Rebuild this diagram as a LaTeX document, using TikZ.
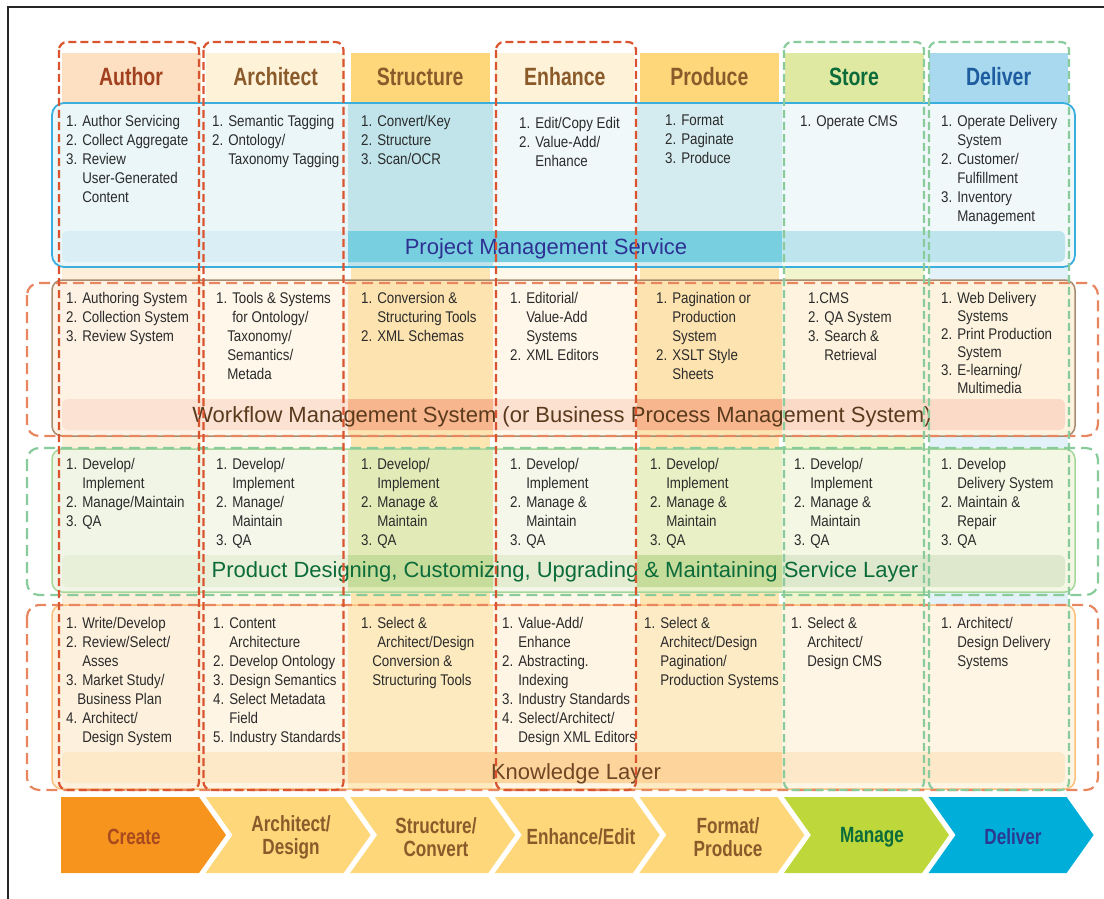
\documentclass[tikz,border=0pt]{standalone}
\usepackage{fontspec}
\setmainfont{Liberation Sans}[FakeStretch=0.86]
\newfontfamily\hdfont{Liberation Sans}[FakeStretch=0.78]
\newfontfamily\ttlfont{Liberation Sans}
\newcommand\ind{\hphantom{1. }}

% column heads and stripes
\definecolor{hdAuthor}{HTML}{FDDFC2}
\definecolor{hdCream}{HTML}{FEF2D8}
\definecolor{hdGold}{HTML}{FDD77A}
\definecolor{hdStore}{HTML}{E0E9A2}
\definecolor{hdDeliver}{HTML}{A8D9EE}
\definecolor{stAuthor}{HTML}{FDEFD9}
\definecolor{stCream}{HTML}{FEF8EA}
\definecolor{stGold}{HTML}{FDE6B2}
\definecolor{stStore}{HTML}{F0F5CE}
\definecolor{stDeliver}{HTML}{E2F2F8}
\definecolor{txAuthor}{HTML}{A0401E}
\definecolor{txBrown}{HTML}{8B5A2B}
\definecolor{txGreen}{HTML}{0B6B3A}
\definecolor{txBlue}{HTML}{1D5C9E}
\definecolor{txGray}{HTML}{2B2B2B}
% layers
\definecolor{pmA}{HTML}{EAF6F8}
\definecolor{pmS}{HTML}{C0E4EA}
\definecolor{pmE}{HTML}{F0F8FA}
\definecolor{pmP}{HTML}{D4ECF0}
\definecolor{pbA}{HTML}{D9EFF5}
\definecolor{pbS}{HTML}{78CFE0}
\definecolor{pbD}{HTML}{BEE5EE}
\definecolor{wfA}{HTML}{FDF2E4}
\definecolor{wfC}{HTML}{FEF7EA}
\definecolor{wfS}{HTML}{FDE3B0}
\definecolor{wfD}{HTML}{FDF3DE}
\definecolor{wbA}{HTML}{FBE2D3}
\definecolor{wbS}{HTML}{F7B68E}
\definecolor{wbE}{HTML}{FCE0D0}
\definecolor{wbD}{HTML}{FCDAC8}
\definecolor{pdA}{HTML}{F0F5E6}
\definecolor{pdC}{HTML}{F4F7EA}
\definecolor{pdS}{HTML}{E2EBB8}
\definecolor{pdP}{HTML}{E9F0C6}
\definecolor{pdD}{HTML}{F4F7E4}
\definecolor{qbA}{HTML}{E8F0DA}
\definecolor{qbS}{HTML}{C6DC9A}
\definecolor{qbE}{HTML}{E4EDD2}
\definecolor{qbD}{HTML}{DEE8CC}
\definecolor{klA}{HTML}{FDF0DC}
\definecolor{klC}{HTML}{FEF5E4}
\definecolor{klS}{HTML}{FDEABF}
\definecolor{klP}{HTML}{FDEBC6}
\definecolor{kbA}{HTML}{FDE8C8}
\definecolor{kbS}{HTML}{FCD49C}
\definecolor{kbD}{HTML}{FDE8CA}
\definecolor{pmsLine}{HTML}{3AAEDD}
\definecolor{wfLine}{HTML}{A88C70}
\definecolor{pdLine}{HTML}{A6D79A}
\definecolor{klLine}{HTML}{FAC07C}
\definecolor{pmsTx}{HTML}{2E3192}
\definecolor{wfTx}{HTML}{5A3A1C}
\definecolor{pdTx}{HTML}{0B6B3A}
\definecolor{klTx}{HTML}{6E4624}
\definecolor{dRed}{HTML}{D9542F}
\definecolor{dSalmon}{HTML}{E88660}
\definecolor{dGreen}{HTML}{8ACB9C}
% chevrons
\definecolor{chOrange}{HTML}{F7941D}
\definecolor{chGold}{HTML}{FDD77A}
\definecolor{chGreen}{HTML}{BED73B}
\definecolor{chBlue}{HTML}{00AEDA}
\definecolor{chTxCreate}{HTML}{A84A1E}
\definecolor{chTxBlue}{HTML}{2B3990}

\begin{document}
\begin{tikzpicture}[x=1pt,y=-1pt,
	cell/.style={anchor=north west,align=left,inner sep=0pt,text=txGray,font=\fontsize{15.5}{19}\selectfont},
	head/.style={anchor=base,inner sep=0pt,font=\hdfont\bfseries\fontsize{25}{25}\selectfont},
	ttl/.style={anchor=base,inner sep=0pt,font=\ttlfont\fontsize{22}{22}\selectfont},
	chev/.style={align=center,inner sep=0pt,font=\hdfont\bfseries\fontsize{22}{23}\selectfont},
	colbox/.style={dash pattern=on 8pt off 4pt,line width=2.2pt,rounded corners=8pt},
	laybox/.style={dash pattern=on 11pt off 6pt,line width=2.2pt,rounded corners=12pt}]
				\useasboundingbox (0,0) rectangle (1104,899);
				\draw[line width=2.5pt,black!85] (8,899) -- (8,7) -- (1104,7);
				
				%stripes and heads
				\foreach \sc [count=\i from 0] in {stAuthor,stCream,stGold,stCream,stGold,stStore,stDeliver}
					\fill[\sc] ({61.6+144.6*\i},103) rectangle ++(139,687);
				\foreach \name/\fc/\tc [count=\i from 0] in {Author/hdAuthor/txAuthor,Architect/hdCream/txBrown,Structure/hdGold/txBrown,Enhance/hdCream/txBrown,Produce/hdGold/txBrown,Store/hdStore/txGreen,Deliver/hdDeliver/txBlue}{
					\fill[\fc] ({61.6+144.6*\i},53) rectangle ++(139,50);
					\node[head,text=\tc] (h\name) at ({131+144.6*\i},85) {\name};
				}
				
				%project management
				\begin{scope}
					\clip[rounded corners=12pt] (52,103) rectangle (1075,267);
					\foreach \cc [count=\i from 0] in {pmA,pmA,pmS,pmE,pmP,pmE,pmE}
						\fill[\cc] ({ifthenelse(\i==0,40,58.7+144.6*\i)},100) rectangle ({ifthenelse(\i==6,1090,58.7+144.6*(\i+1))},270);
					\clip[rounded corners=6pt] (62,231) rectangle (1065,262);
					\foreach \cc [count=\i from 0] in {pbA,pbA,pbS,pbS,pbS,pbD,pbD}
						\fill[\cc] ({ifthenelse(\i==0,40,58.7+144.6*\i)},228) rectangle ({ifthenelse(\i==6,1090,58.7+144.6*(\i+1))},265);
				\end{scope}
				\draw[pmsLine,line width=1.8pt,rounded corners=12pt] (52,103) rectangle (1075,267);
				\node[ttl,text=pmsTx] (pms) at (546,254) {Project Management Service};
				\node[cell] (pmAuthor) at (66,115) {1. Author Servicing\\2. Collect Aggregate\\3. Review\\\ind User-Generated\\\ind Content};
				\node[cell] (pmArchitect) at (212,115) {1. Semantic Tagging\\2. Ontology/\\\ind Taxonomy Tagging};
				\node[cell] (pmStructure) at (361,115) {1. Convert/Key\\2. Structure\\3. Scan/OCR};
				\node[cell] (pmEnhance) at (519,117) {1. Edit/Copy Edit\\2. Value-Add/\\\ind Enhance};
				\node[cell] (pmProduce) at (665,115) {1. Format\\2. Paginate\\3. Produce};
				\node[cell] (pmStore) at (800,115) {1. Operate CMS};
				\node[cell] (pmDeliver) at (941,115) {1. Operate Delivery\\\ind System\\2. Customer/\\\ind Fulfillment\\3. Inventory\\\ind Management};
				
				%workflow
				\begin{scope}
					\clip[rounded corners=10pt] (52,280) rectangle (1075,436);
					\foreach \cc [count=\i from 0] in {wfA,wfC,wfS,wfC,wfS,wfD,wfD}
						\fill[\cc] ({ifthenelse(\i==0,40,58.7+144.6*\i)},277) rectangle ({ifthenelse(\i==6,1090,58.7+144.6*(\i+1))},440);
					\clip[rounded corners=6pt] (62,399) rectangle (1065,430);
					\foreach \cc [count=\i from 0] in {wbA,wbA,wbS,wbE,wbS,wbD,wbD}
						\fill[\cc] ({ifthenelse(\i==0,40,58.7+144.6*\i)},396) rectangle ({ifthenelse(\i==6,1090,58.7+144.6*(\i+1))},433);
				\end{scope}
				\draw[wfLine,line width=1.5pt,rounded corners=10pt] (52,280) rectangle (1075,436);
				\node[ttl,text=wfTx] (wfms) at (562,422) {Workflow Management System (or Business Process Management System)};
				\node[cell] (wfAuthor) at (66,292.5) {1. Authoring System\\2. Collection System\\3. Review System};
				\node[cell] (wfArchitect) at (216,292.5) {1. Tools \& Systems\\\ind for Ontology/\\\hphantom{1.}Taxonomy/\\\hphantom{1.}Semantics/\\\hphantom{1.}Metada};
				\node[cell] (wfStructure) at (361,292.5) {1. Conversion \&\\\ind Structuring Tools\\2. XML Schemas};
				\node[cell] (wfEnhance) at (510,292.5) {1. Editorial/\\\ind Value-Add\\\ind Systems\\2. XML Editors};
				\node[cell] (wfProduce) at (656,292.5) {1. Pagination or\\\ind Production\\\ind System\\2. XSLT Style\\\ind Sheets};
				\node[cell] (wfStore) at (808,292.5) {1.CMS\\2. QA System\\3. Search \&\\\ind Retrieval};
				\node[cell,font=\fontsize{15.5}{18}\selectfont] (wfDeliver) at (941,292.5) {1. Web Delivery\\\ind Systems\\2. Print Production\\\ind System\\3. E-learning/\\\ind Multimedia};
				
				%product designing
				\begin{scope}
					\clip[rounded corners=10pt] (52,449) rectangle (1075,592);
					\foreach \cc [count=\i from 0] in {pdA,pdC,pdS,pdC,pdP,pdD,pdD}
						\fill[\cc] ({ifthenelse(\i==0,40,58.7+144.6*\i)},446) rectangle ({ifthenelse(\i==6,1090,58.7+144.6*(\i+1))},595);
					\clip[rounded corners=6pt] (62,555) rectangle (1065,587);
					\foreach \cc [count=\i from 0] in {qbA,qbA,qbS,qbE,qbS,qbD,qbD}
						\fill[\cc] ({ifthenelse(\i==0,40,58.7+144.6*\i)},552) rectangle ({ifthenelse(\i==6,1090,58.7+144.6*(\i+1))},590);
				\end{scope}
				\draw[pdLine,line width=1.5pt,rounded corners=10pt] (52,449) rectangle (1075,592);
				\node[ttl,text=pdTx] (pdsl) at (565,577) {Product Designing, Customizing, Upgrading \& Maintaining Service Layer};
				\node[cell] (pdAuthor) at (66,458.5) {1. Develop/\\\ind Implement\\2. Manage/Maintain\\3. QA};
				\node[cell] (pdArchitect) at (216,458.5) {1. Develop/\\\ind Implement\\2. Manage/\\\ind Maintain\\3. QA};
				\node[cell] (pdStructure) at (361,458.5) {1. Develop/\\\ind Implement\\2. Manage \&\\\ind Maintain\\3. QA};
				\node[cell] (pdEnhance) at (510,458.5) {1. Develop/\\\ind Implement\\2. Manage \&\\\ind Maintain\\3. QA};
				\node[cell] (pdProduce) at (650,458.5) {1. Develop/\\\ind Implement\\2. Manage \&\\\ind Maintain\\3. QA};
				\node[cell] (pdStore) at (794,458.5) {1. Develop/\\\ind Implement\\2. Manage \&\\\ind Maintain\\3. QA};
				\node[cell] (pdDeliver) at (941,458.5) {1. Develop\\\ind Delivery System\\2. Maintain \&\\\ind Repair\\3. QA};
				
				%knowledge
				\begin{scope}
					\clip[rounded corners=10pt] (52,605) rectangle (1075,789);
					\foreach \cc [count=\i from 0] in {klA,klC,klS,klC,klP,klC,klC}
						\fill[\cc] ({ifthenelse(\i==0,40,58.7+144.6*\i)},602) rectangle ({ifthenelse(\i==6,1090,58.7+144.6*(\i+1))},792);
					\clip[rounded corners=6pt] (62,752) rectangle (1065,783);
					\foreach \cc [count=\i from 0] in {kbA,kbA,kbS,kbS,kbS,kbD,kbD}
						\fill[\cc] ({ifthenelse(\i==0,40,58.7+144.6*\i)},749) rectangle ({ifthenelse(\i==6,1090,58.7+144.6*(\i+1))},786);
				\end{scope}
				\draw[klLine,line width=1.5pt,rounded corners=10pt] (52,605) rectangle (1075,789);
				\node[ttl,text=klTx] (know) at (576,779) {Knowledge Layer};
				\node[cell] (klAuthor) at (66,617.5) {1. Write/Develop\\2. Review/Select/\\\ind Asses\\3. Market Study/\\\hphantom{1.}Business Plan\\4. Architect/\\\ind Design System};
				\node[cell] (klArchitect) at (213,617.5) {1. Content\\\ind Architecture\\2. Develop Ontology\\3. Design Semantics\\4. Select Metadata\\\ind Field\\5. Industry Standards};
				\node[cell] (klStructure) at (361,617.5) {1. Select \&\\\ind Architect/Design\\\hphantom{1.}Conversion \&\\\hphantom{1.}Structuring Tools};
				\node[cell] (klEnhance) at (502,617.5) {1. Value-Add/\\\ind Enhance\\2. Abstracting.\\\ind Indexing\\3. Industry Standards\\4. Select/Architect/\\\ind Design XML Editors};
				\node[cell] (klProduce) at (644,617.5) {1. Select \&\\\ind Architect/Design\\\ind Pagination/\\\ind Production Systems};
				\node[cell] (klStore) at (791,617.5) {1. Select \&\\\ind Architect/\\\ind Design CMS};
				\node[cell] (klDeliver) at (941,617.5) {1. Architect/\\\ind Design Delivery\\\ind Systems};
				
				%dashed groups
				\draw[laybox,dSalmon] (27,283) rectangle (1098,436);
				\draw[laybox,dGreen] (27,448) rectangle (1098,595);
				\draw[laybox,dSalmon] (27,605) rectangle (1098,790);
				\foreach \x in {59,203.5,496}
					\draw[colbox,dRed] (\x,42) rectangle ++(140,748);
				\foreach \x in {784,929}
					\draw[colbox,dGreen] (\x,42) rectangle ++(140,748);
				
				%chevrons
				\foreach \fc [count=\i from 0] in {chOrange,chGold,chGold,chGold,chGold,chGreen,chBlue}{
					\pgfmathsetmacro\cx{131+144.6*\i}
					\fill[\fc] ({\cx-70},797) -- ({\cx+68},797) -- ({\cx+95},835) -- ({\cx+68},873) -- ({\cx-70},873) -- ({ifthenelse(\i==0,\cx-70,\cx-43)},835) -- cycle;
				}
				\node[chev,text=chTxCreate] (cCreate) at (134,837) {Create};
				\node[chev,text=txBrown] (cDesign) at (291,837) {Architect/\\Design};
				\node[chev,text=txBrown] (cConvert) at (436,837) {Structure/\\Convert};
				\node[chev,text=txBrown] (cEdit) at (581,837) {Enhance/Edit};
				\node[chev,text=txBrown] (cProduce) at (728,837) {Format/\\Produce};
				\node[chev,text=txGreen] (cManage) at (872,837) {Manage};
				\node[chev,text=chTxBlue] (cDeliver) at (1013,837) {Deliver};
\end{tikzpicture}
\end{document}
